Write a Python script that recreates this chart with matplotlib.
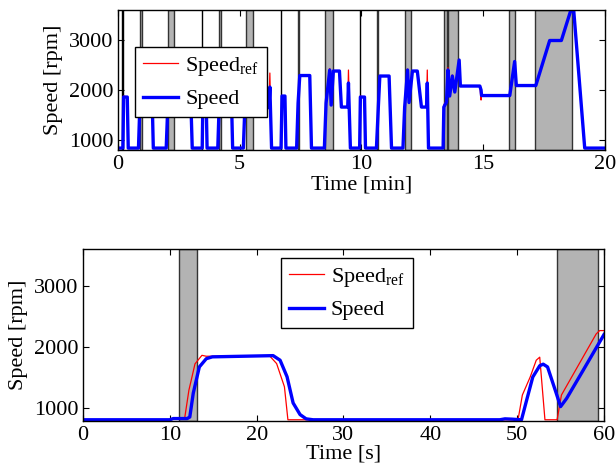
import numpy as np
import matplotlib
matplotlib.use("Agg")
import matplotlib.pyplot as plt

plt.rcParams['font.family'] = ['Liberation Serif', 'DejaVu Serif']
plt.rcParams['mathtext.fontset'] = 'custom'
plt.rcParams['mathtext.rm'] = 'Liberation Serif'
plt.rcParams['mathtext.it'] = 'Liberation Serif:italic'

# ---- upper panel: whole cycle, time in minutes ----
t_min = [0, 0.20, 0.23, 0.38, 0.42, 0.84, 0.90, 0.97, 1.38, 1.45,
         1.98, 2.05, 2.20, 2.26, 2.35, 2.60, 2.68, 2.94, 2.97, 3.05,
         3.46, 3.49, 3.62, 3.66, 4.10, 4.16, 4.23, 4.64, 4.71,
         5.15, 5.22, 5.40, 5.46, 5.55, 5.82, 5.92, 6.20, 6.24, 6.31,
         6.70, 6.74, 6.86, 6.90, 7.34, 7.40, 7.47, 7.88, 7.95,
         8.48, 8.55, 8.70, 8.76, 8.85, 9.10, 9.18, 9.44, 9.47, 9.55,
         9.93, 9.96, 10.13, 10.17, 10.62, 10.70, 10.76, 11.14, 11.24,
         11.71, 11.78, 11.90, 11.96, 12.10, 12.30, 12.47, 12.68, 12.71, 12.76,
         13.36, 13.39, 13.50, 13.56, 13.63, 13.74, 13.84, 14.02, 14.07,
         14.87, 14.92, 14.94, 16.10, 16.30, 16.37, 17.17, 17.74, 18.22,
         18.60, 18.73, 19.18, 20.0]
speed_min = [840, 840, 1860, 1860, 840, 840, 1740, 2290, 2290, 840,
             840, 1740, 2400, 1700, 2380, 2380, 1660, 1660, 2140, 840,
             840, 1870, 1870, 840, 840, 1740, 2290, 2290, 840,
             840, 1740, 2400, 1700, 2380, 2380, 1650, 1650, 2060, 840,
             840, 1880, 1880, 840, 840, 1740, 2290, 2290, 840,
             840, 1740, 2400, 1700, 2380, 2380, 1660, 1660, 2140, 840,
             840, 1860, 1860, 840, 840, 1680, 2280, 2280, 840,
             840, 1660, 2400, 1750, 2380, 2380, 1660, 1660, 2140, 840,
             840, 1660, 1760, 2400, 1880, 2280, 1960, 2600, 2080,
             2080, 2000, 1890, 1890, 2570, 2090, 2090, 2990, 2990,
             3580, 3580, 840, 840]
ref_min = [840, 840, 1880, 1860, 840, 840, 1800, 2300, 2290, 840,
           840, 1800, 2420, 1700, 2380, 2380, 1660, 1660, 2400, 840,
           840, 1880, 1870, 840, 840, 1800, 2300, 2290, 840,
           840, 1800, 2420, 1700, 2380, 2380, 1650, 1650, 2340, 840,
           840, 1890, 1880, 840, 840, 1800, 2300, 2290, 840,
           840, 1780, 2430, 1700, 2380, 2380, 1660, 1660, 2400, 840,
           840, 1880, 1860, 840, 840, 1760, 2290, 2280, 840,
           840, 1700, 2420, 1750, 2380, 2380, 1660, 1660, 2400, 840,
           840, 1700, 1800, 2450, 1880, 2300, 1960, 2600, 2080,
           2080, 1800, 1890, 1890, 2570, 2090, 2090, 2990, 2990,
           3580, 3580, 840, 840]

lines_min = [(0.17, 0.19), (3.45, 3.47), (6.68, 6.70), (9.93, 9.95)]
bands_min = [(0.90, 0.97), (4.17, 4.22), (7.39, 7.44), (10.64, 10.69),
             (2.04, 2.31), (5.28, 5.56), (8.50, 8.84), (11.79, 12.06),
             (13.38, 13.50), (13.56, 13.97), (16.06, 16.30), (17.13, 18.66)]

# ---- lower panel: first minute, time in seconds ----
t_speed_s = [0, 10.0, 10.4, 12.0, 12.3, 12.7, 13.4, 14.2, 14.9, 21.9, 22.7,
             23.5, 24.2, 25.0, 25.7, 26.5, 48.0, 48.6, 49.4, 50.5, 51.1,
             51.8, 52.6, 53.0, 53.5, 54.5, 55.0, 55.7, 57.6, 60.0]
speed_s = [805, 805, 825, 825, 850, 1240, 1670, 1805, 1835, 1855, 1780,
           1510, 1080, 890, 820, 805, 805, 820, 815, 805, 1130,
           1505, 1690, 1715, 1670, 1240, 1020, 1155, 1615, 2200]
t_ref_s = [0, 10.0, 10.4, 11.7, 12.2, 12.9, 13.7, 14.2, 21.5, 22.3, 23.2,
           23.6, 50.1, 50.6, 51.5, 52.2, 52.6, 53.2, 54.6, 55.1, 59.1, 59.5, 60]
ref_s = [805, 805, 820, 820, 1290, 1720, 1860, 1845, 1850, 1725, 1345,
         805, 805, 1210, 1505, 1780, 1830, 805, 805, 1210, 2210, 2265, 2265]
bands_s = [(11.06, 13.17), (54.6, 59.3)]

fig = plt.figure(figsize=(6.16, 4.75), dpi=100)
ax1 = fig.add_axes([0.1916, 0.684, 0.790, 0.295])
ax2 = fig.add_axes([0.1347, 0.1137, 0.8458, 0.362])

fs = 16
leg_kw = dict(loc='upper left', borderaxespad=0, fontsize=fs, fancybox=False,
              framealpha=1, edgecolor='black', handlelength=1.6,
              handletextpad=0.3, borderpad=0.35, labelspacing=0.5)

for a, b in lines_min:
    ax1.axvspan(a, b, facecolor='0.7', edgecolor='black', linewidth=1.0, zorder=1)
for a, b in bands_min:
    ax1.axvspan(a, b, facecolor='0.7', edgecolor='0.2', linewidth=1.0, zorder=1)
ax1.plot(t_min, ref_min, color='red', linewidth=0.9, label='Speed$_{\\mathrm{ref}}$', zorder=3)
ax1.plot(t_min, speed_min, color='blue', linewidth=2.4, label='Speed', zorder=4)
ax1.set_xlim(0, 20)
ax1.set_ylim(800, 3600)
ax1.set_xticks([0, 5, 10, 15, 20])
ax1.set_yticks([1000, 2000, 3000])
ax1.set_xlabel('Time [min]', fontsize=fs, labelpad=1)
ax1.set_ylabel('Speed [rpm]', fontsize=fs, labelpad=4)
ax1.legend(bbox_to_anchor=(0.035, 0.736), **leg_kw)

for a, b in bands_s:
    ax2.axvspan(a, b, facecolor='0.7', edgecolor='0.2', linewidth=1.0, zorder=1)
ax2.plot(t_ref_s, ref_s, color='red', linewidth=0.9, label='Speed$_{\\mathrm{ref}}$', zorder=3)
ax2.plot(t_speed_s, speed_s, color='blue', linewidth=2.4, label='Speed', zorder=4)
ax2.set_xlim(0, 60)
ax2.set_ylim(785, 3600)
ax2.set_xticks(np.arange(0, 61, 10))
ax2.set_yticks([1000, 2000, 3000])
ax2.set_xlabel('Time [s]', fontsize=fs, labelpad=0)
ax2.set_ylabel('Speed [rpm]', fontsize=fs, labelpad=4)
ax2.legend(bbox_to_anchor=(0.38, 0.948), **leg_kw)

for ax in (ax1, ax2):
    ax.tick_params(direction='in', top=True, right=True, labelsize=fs, length=4)
    for s in ax.spines.values():
        s.set_linewidth(1.0)
        s.set_zorder(5)

fig.savefig('out.png', dpi=100)
